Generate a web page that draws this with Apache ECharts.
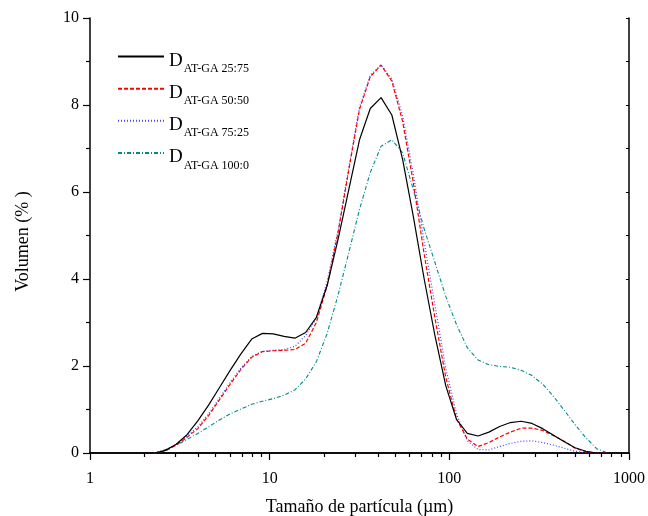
<!DOCTYPE html>
<html>
<head>
<meta charset="utf-8">
<script src="https://cdn.jsdelivr.net/npm/echarts@6/dist/echarts.min.js"></script>
<style>
html,body{margin:0;padding:0;background:#fff;}
#chart{width:648px;height:516px;}
</style>
</head>
<body>
<div id="chart"></div>
<script>
// particle size classes (µm)
var sizes = [2.291, 2.630, 3.020, 3.467, 3.981, 4.571, 5.248, 6.026, 6.918, 7.943, 9.120, 10.471, 12.023, 13.804, 15.849, 18.197, 20.893, 23.988, 27.542, 31.623, 36.308, 41.687, 47.863, 54.954, 63.096, 72.444, 83.176, 95.499, 109.648, 125.893, 144.544, 165.959, 190.546, 218.776, 251.189, 288.403, 331.131, 380.189, 436.516, 501.187, 575.440, 660.693, 758.578];

var vol2575 = [0, 0.06, 0.20, 0.42, 0.74, 1.10, 1.50, 1.90, 2.28, 2.62, 2.75, 2.74, 2.68, 2.64, 2.77, 3.12, 3.85, 4.90, 6.05, 7.20, 7.92, 8.17, 7.77, 6.75, 5.43, 4.00, 2.70, 1.55, 0.77, 0.45, 0.39, 0.48, 0.61, 0.70, 0.73, 0.68, 0.56, 0.41, 0.26, 0.12, 0.04, 0, 0];
var vol5050 = [0, 0.05, 0.18, 0.36, 0.56, 0.86, 1.22, 1.58, 1.92, 2.20, 2.33, 2.35, 2.36, 2.38, 2.52, 3.00, 3.85, 5.05, 6.50, 7.90, 8.65, 8.92, 8.55, 7.62, 6.20, 4.57, 3.10, 1.74, 0.78, 0.32, 0.15, 0.24, 0.37, 0.48, 0.57, 0.57, 0.52, 0.40, 0.27, 0.11, 0.03, 0, 0];
var vol7525 = [0, 0.06, 0.20, 0.40, 0.60, 0.90, 1.26, 1.62, 1.95, 2.22, 2.34, 2.36, 2.38, 2.45, 2.70, 3.10, 3.95, 5.10, 6.55, 7.95, 8.68, 8.92, 8.60, 7.75, 6.40, 4.85, 3.40, 1.95, 0.90, 0.28, 0.08, 0.07, 0.15, 0.22, 0.27, 0.28, 0.24, 0.18, 0.11, 0.04, 0, 0, 0];
var vol1000 = [0, 0.08, 0.18, 0.31, 0.45, 0.60, 0.76, 0.90, 1.01, 1.12, 1.19, 1.25, 1.33, 1.45, 1.70, 2.10, 2.75, 3.62, 4.60, 5.60, 6.45, 7.05, 7.20, 6.90, 6.05, 5.15, 4.38, 3.60, 2.95, 2.42, 2.14, 2.03, 1.99, 1.97, 1.90, 1.78, 1.58, 1.30, 0.98, 0.65, 0.35, 0.10, 0];

var seriesNames = ['AT-GA 25:75', 'AT-GA 50:50', 'AT-GA 75:25', 'AT-GA 100:0'];
var xMajorTicks = [1, 10, 100, 1000];
var xMinorTicks = [2, 3, 4, 5, 6, 7, 8, 9, 20, 30, 40, 50, 60, 70, 80, 90, 200, 300, 400, 500, 600, 700, 800, 900];
var xTitle = 'Tamaño de partícula (µm)';
var yTitle = 'Volumen (% )';

var FONT = 'Liberation Serif';
function pairs(vals) { return sizes.map(function (s, i) { return [s, vals[i]]; }); }

var chart = echarts.init(document.getElementById('chart'), null, {renderer: 'canvas'});
var gridRect = {left: 90, right: 19, top: 18, bottom: 63, outerBoundsMode: 'none', containLabel: false};
var allXTicks = xMajorTicks.concat(xMinorTicks).sort(function (a, b) { return a - b; });

var styles = [
  {color: '#000000', type: 'solid', width: 1.2},
  {color: '#ff0000', type: [4, 2], width: 1.2},
  {color: '#4444ff', type: [1, 2], width: 1.2},
  {color: '#008b8b', type: [4, 2, 1, 2], width: 1.1}
];
var valueSets = [vol2575, vol5050, vol7525, vol1000];

var option = {
  animation: false,
  backgroundColor: '#fff',
  grid: [
    Object.assign({}, gridRect),
    Object.assign({}, gridRect)
  ],
  legend: {
    orient: 'vertical',
    left: 117,
    top: 51,
    padding: 0,
    itemWidth: 46,
    itemHeight: 14,
    itemGap: 8,
    data: seriesNames,
    itemStyle: {opacity: 0},
    formatter: function (n) { return '{d|D}{s|' + n + '}'; },
    textStyle: {
      rich: {
        d: {fontFamily: FONT, fontSize: 19, color: '#000', padding: [8, 0, 0, 0]},
        s: {fontFamily: FONT, fontSize: 12, color: '#000', padding: [25, 0, 0, 1]}
      }
    }
  },
  xAxis: [
    {
      type: 'log', logBase: 10, min: 1, max: 1000, gridIndex: 0, position: 'bottom',
      name: xTitle, nameLocation: 'middle', nameGap: 45,
      nameTextStyle: {fontFamily: FONT, fontSize: 18, color: '#000'},
      axisLine: {show: true, lineStyle: {color: '#000', width: 1.5}},
      axisTick: {show: true, inside: false, length: 7, customValues: xMajorTicks, lineStyle: {color: '#000', width: 1.2}},
      axisLabel: {show: true, customValues: xMajorTicks, margin: 18, fontFamily: FONT, fontSize: 16, color: '#000',
        formatter: function (v) { return String(v); }},
      splitLine: {show: false}
    },
    {
      type: 'log', logBase: 10, min: 1, max: 1000, gridIndex: 0, position: 'top',
      axisLine: {show: true, lineStyle: {color: '#000', width: 1.5}},
      axisTick: {show: true, inside: true, length: 3, customValues: allXTicks, lineStyle: {color: '#000', width: 1}},
      axisLabel: {show: false},
      splitLine: {show: false}
    },
    {
      type: 'log', logBase: 10, min: 1, max: 1000, gridIndex: 1, position: 'bottom',
      axisLine: {show: false},
      axisTick: {show: true, inside: false, length: 4, customValues: xMinorTicks, lineStyle: {color: '#000', width: 1.2}},
      axisLabel: {show: false},
      splitLine: {show: false}
    }
  ],
  yAxis: [
    {
      type: 'value', min: 0, max: 10, interval: 2, gridIndex: 0, position: 'left',
      name: yTitle, nameLocation: 'middle', nameGap: 58, nameRotate: 90,
      nameTextStyle: {fontFamily: FONT, fontSize: 18, color: '#000', padding: [0, 12, 0, 0]},
      axisLine: {show: true, lineStyle: {color: '#000', width: 1.5}},
      axisTick: {show: true, inside: false, length: 7, lineStyle: {color: '#000', width: 1.2}},
      minorTick: {show: true, splitNumber: 2, length: 4, lineStyle: {color: '#000', width: 1.2}},
      axisLabel: {margin: 11, fontFamily: FONT, fontSize: 16, color: '#000'},
      splitLine: {show: false}
    },
    {
      type: 'value', min: 0, max: 10, interval: 1, gridIndex: 0, position: 'right',
      axisLine: {show: true, lineStyle: {color: '#000', width: 1.5}},
      axisTick: {show: true, inside: true, length: 3, lineStyle: {color: '#000', width: 1}},
      axisLabel: {show: false},
      splitLine: {show: false}
    },
    {
      type: 'value', min: 0, max: 10, gridIndex: 1, show: false
    }
  ],
  series: seriesNames.map(function (n, i) {
    return {
      name: n, type: 'line', xAxisIndex: 0, yAxisIndex: 0,
      data: pairs(valueSets[i]),
      showSymbol: false, symbol: 'none', smooth: false,
      lineStyle: styles[i], itemStyle: {color: styles[i].color},
      z: 4 - i
    };
  })
};
chart.setOption(option);
</script>
</body>
</html>
